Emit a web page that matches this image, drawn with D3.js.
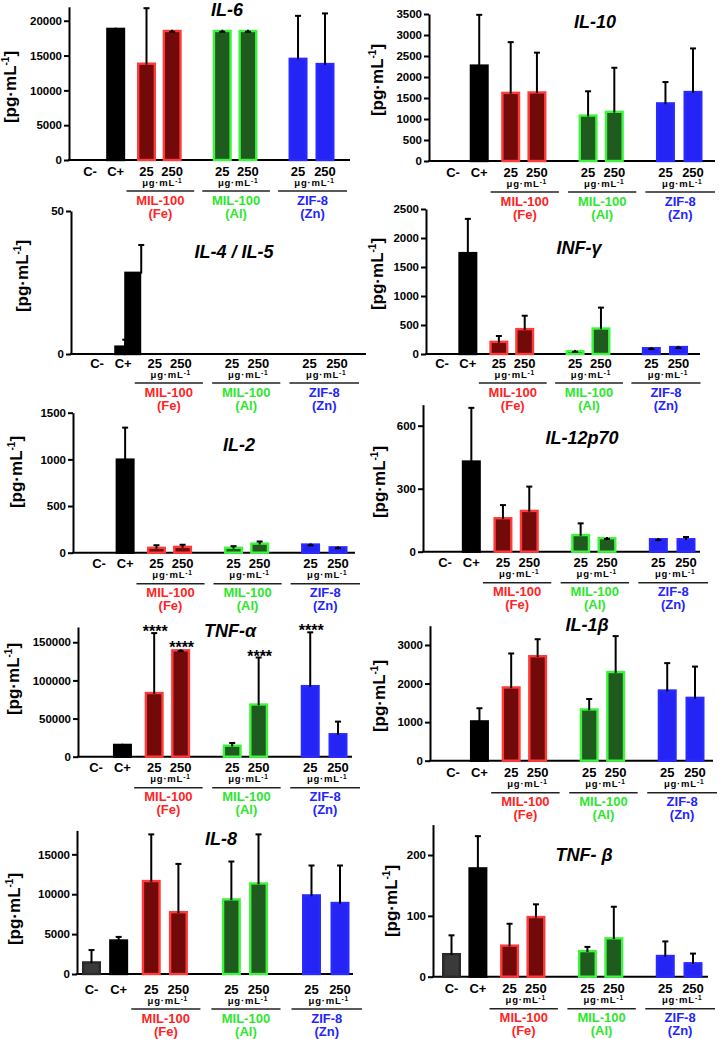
<!DOCTYPE html>
<html><head><meta charset="utf-8">
<script src="https://cdn.jsdelivr.net/npm/d3@7"></script>
<style>
body{margin:0;background:#fff}
svg text{font-family:"Liberation Sans",Arial,Helvetica,sans-serif;font-weight:bold}
</style></head><body>
<svg id="chart" width="719" height="1039"></svg>
<script>
// ---------- DATA ----------
const categoryKeys = ["Cneg","Cpos","Fe25","Fe250","Al25","Al250","Zn25","Zn250"];
const categoryLabels = ["C-","C+","25","250","25","250","25","250"];
const groupNames = ["MIL-100","MIL-100","ZIF-8"];
const groupMetals = ["(Fe)","(Al)","(Zn)"];
const groupKeys = [["Fe25","Fe250"],["Al25","Al250"],["Zn25","Zn250"]];
const doseUnit = "μg·mL";

const titles = ["IL-6","IL-10","IL-4 / IL-5","INF-γ","IL-2","IL-12p70","TNF-α","IL-1β","IL-8","TNF- β"];

const il6Mean = [null,19000,14000,18700,18700,18700,14700,13950];
const il6Sd   = [null,0,7800,0,0,0,6000,7100];
const il6Ticks = [0,5000,10000,15000,20000];

const il10Mean = [null,2300,1650,1660,1110,1200,1400,1670];
const il10Sd   = [null,1180,1180,920,550,1020,480,1010];
const il10Ticks = [0,500,1000,1500,2000,2500,3000,3500];

const il4Mean = [null,3,null,null,null,null,null,null];
const il4Sd   = [null,2,null,null,null,null,null,null];
const il5Mean = [null,28.8,null,null,null,null,null,null];
const il5Sd   = [null,9.3,null,null,null,null,null,null];
const il45Ticks = [0,50];

const infMean = [null,1760,230,450,70,460,120,140];
const infSd   = [null,570,80,210,0,340,0,0];
const infTicks = [0,500,1000,1500,2000,2500];

const il2Mean = [null,1010,65,75,65,110,100,70];
const il2Sd   = [null,330,15,10,5,10,0,0];
const il2Ticks = [0,500,1000,1500];

const il12Mean = [null,435,165,200,85,70,65,65];
const il12Sd   = [null,250,57,110,50,0,0,5];
const il12Ticks = [0,300,600];

const tnfaMean = [null,17000,85000,141000,16000,70000,94000,31000];
const tnfaSd   = [null,0,77000,0,2000,60000,69000,15000];
const tnfaStars = ["","","****","****","","****","****",""];
const tnfaTicks = [0,50000,100000,150000];

const il1bMean = [null,1050,1930,2740,1360,2330,1850,1660];
const il1bSd   = [null,310,850,410,240,900,680,780];
const il1bTicks = [0,1000,2000,3000];

const il8Mean = [1600,4350,11800,7900,9500,11500,10000,9050];
const il8Sd   = [1400,300,5700,5900,4600,6000,3600,4550];
const il8Ticks = [0,5000,10000,15000];

const tnfbMean = [39,180,53,100,44,65,36,24];
const tnfbSd   = [29,51,34,19,5,50,22,14];
const tnfbTicks = [0,100,200];

const axisMax = [22000,3500,50,2500,1500,700,170000,3500,18000,250];

// ---------- LAYOUT / STYLE ----------
const panels = [
 {series:[{mean:il6Mean,sd:il6Sd}], ticks:il6Ticks, axisX:69, right:350, zero:160, top:6.8, x0:90, x1:325, tt:[227,9], yl:[10,87], dy:0},
 {series:[{mean:il10Mean,sd:il10Sd}], ticks:il10Ticks, axisX:429, right:715, zero:161, top:14, x0:453, x1:693, tt:[595,21], yl:[377,80], dy:0},
 {series:[{mean:il4Mean,sd:il4Sd,off:-9,w:11},{mean:il5Mean,sd:il5Sd,off:1,w:17}], ticks:il45Ticks, axisX:71, right:366, zero:354, top:211, x0:97, x1:337, tt:[234,251], yl:[22,276], dy:-2},
 {series:[{mean:infMean,sd:infSd}], ticks:infTicks, axisX:426, right:700, zero:354, top:209, x0:442, x1:678.5, tt:[579,247], yl:[377,274], dy:-2},
 {series:[{mean:il2Mean,sd:il2Sd}], ticks:il2Ticks, axisX:73, right:355, zero:552.7, top:412.7, x0:99, x1:338, tt:[239,444], yl:[16,472], dy:0},
 {series:[{mean:il12Mean,sd:il12Sd}], ticks:il12Ticks, axisX:423, right:700, zero:551.7, top:404.7, x0:445, x1:686, tt:[582,437], yl:[379,482], dy:0},
 {series:[{mean:tnfaMean,sd:tnfaSd,stars:tnfaStars}], ticks:tnfaTicks, axisX:78, right:352, zero:756.7, top:627, x0:96, x1:338, tt:[230,630], yl:[13,679], dy:0},
 {series:[{mean:il1bMean,sd:il1bSd}], ticks:il1bTicks, axisX:430, right:713, zero:760.7, top:625.7, x0:453, x1:695, tt:[587,624], yl:[379,696], dy:1},
 {series:[{mean:il8Mean,sd:il8Sd}], ticks:il8Ticks, axisX:77, right:353, zero:974, top:830.4, x0:91.5, x1:340, tt:[221,838], yl:[14,909], dy:4},
 {series:[{mean:tnfbMean,sd:tnfbSd}], ticks:tnfbTicks, axisX:433, right:708, zero:976.7, top:824.6, x0:451.5, x1:693, tt:[584,854], yl:[391,901], dy:1}
];

const slotScale = d3.scaleOrdinal().domain(categoryKeys).range([0,1,2.2,3.2,5.15,6.15,8.1,9.15]);
const barStyle = {
  Cneg:{fill:"#3a3a3a",stroke:"#2a2a2a"}, Cpos:{fill:"#000",stroke:"#000"},
  Fe:{fill:"#720a0a",stroke:"#ff3a3a"}, Al:{fill:"#1f5a1f",stroke:"#3cf53c"}, Zn:{fill:"#2424f4",stroke:"#2a2aff"}
};
const groupColors = ["#ff2424","#2ee62e","#2424ff"];
const styleOf = k => k==="Cneg"?barStyle.Cneg : k==="Cpos"?barStyle.Cpos : barStyle[k.slice(0,2)];

const svg = d3.select("#chart");

panels.forEach((p,pi)=>{
  const g = svg.append("g");
  const y = d3.scaleLinear().domain([0,axisMax[pi]]).range([p.zero,p.top]);
  const xu = d3.scaleLinear().domain([0,9.15]).range([p.x0,p.x1]);
  const x = k => xu(slotScale(k));

  g.append("line").attr("x1",p.axisX-1).attr("x2",p.right).attr("y1",y(0)).attr("y2",y(0))
    .attr("stroke","#000").attr("stroke-width",2);

  const ax = g.append("g").attr("transform",`translate(${p.axisX},0)`)
    .call(d3.axisLeft(y).tickValues(p.ticks).tickSize(5).tickPadding(2).tickSizeOuter(0).tickFormat(d3.format("d")));
  ax.select(".domain").attr("stroke","#000").attr("stroke-width",2);
  ax.selectAll(".tick line").attr("stroke","#000").attr("stroke-width",2);
  ax.selectAll(".tick text").style("font-size","11.5px").attr("fill","#000");

  p.series.forEach(s=>{
    const w = s.w||19, off = (s.off!==undefined)?s.off:-w/2;
    const items = categoryKeys.map((k,i)=>({k,i,m:s.mean[i],sd:s.sd[i],star:s.stars?s.stars[i]:""})).filter(d=>d.m!==null);
    g.selectAll(null).data(items).enter().append("rect")
      .attr("x",d=>x(d.k)+off+1.2).attr("width",w-2.4)
      .attr("y",d=>y(d.m)+1.2).attr("height",d=>Math.max(0,y(0)-y(d.m)-1.2))
      .attr("fill",d=>styleOf(d.k).fill).attr("stroke",d=>styleOf(d.k).stroke).attr("stroke-width",2.4);
    const ex = d => s.w ? x(d.k)+off+w : x(d.k);
    g.selectAll(null).data(items.filter(d=>d.sd!==null)).enter().append("line")
      .attr("x1",ex).attr("x2",ex).attr("y1",d=>y(d.m)+2).attr("y2",d=>y(d.m+d.sd))
      .attr("stroke","#000").attr("stroke-width",2);
    g.selectAll(null).data(items.filter(d=>d.sd!==null)).enter().append("line")
      .attr("x1",d=>ex(d)-3).attr("x2",d=>ex(d)+3).attr("y1",d=>y(d.m+d.sd)+(d.sd===0?2:0)).attr("y2",d=>y(d.m+d.sd)+(d.sd===0?2:0))
      .attr("stroke","#000").attr("stroke-width",2);
    g.selectAll(null).data(items.filter(d=>d.star)).enter().append("text")
      .attr("x",d=>x(d.k)+1).attr("y",d=>y(d.m+d.sd)+4).attr("text-anchor","middle")
      .attr("fill","#000").style("font-size","16px").text(d=>d.star);
  });

  const base = p.zero + p.dy;
  g.selectAll(null).data(categoryKeys).enter().append("text")
    .attr("x",k=>x(k)).attr("y",base+15.5).attr("text-anchor","middle").attr("fill","#000")
    .style("font-size","13px").text((k,i)=>categoryLabels[i]);

  groupKeys.forEach((gk,gi)=>{
    const a = x(gk[0]), b = x(gk[1]), c = (a+b)/2;
    const u = g.append("text").attr("x",c+3).attr("y",base+25.5).attr("text-anchor","middle").attr("fill","#000")
      .style("font-size","9.5px").style("letter-spacing","0.8px");
    u.append("tspan").text(doseUnit);
    u.append("tspan").attr("dy",-3).style("font-size","6.5px").text("-1");
    g.append("line").attr("x1",a-20).attr("x2",b+22).attr("y1",base+31).attr("y2",base+31)
      .attr("stroke","#222").attr("stroke-width",1.6);
    g.append("text").attr("x",c+1).attr("y",base+44.5).attr("text-anchor","middle")
      .style("font-size","13px").attr("fill",groupColors[gi]).text(groupNames[gi]);
    g.append("text").attr("x",c+1).attr("y",base+57.5).attr("text-anchor","middle")
      .style("font-size","13px").attr("fill",groupColors[gi]).text(groupMetals[gi]);
  });

  g.append("text").attr("x",p.tt[0]).attr("y",p.tt[1]+6.5).attr("text-anchor","middle").attr("fill","#000")
    .style("font-size","18px").style("font-style","italic").text(titles[pi]);

  const yl = g.append("text").attr("transform",`translate(${p.yl[0]+6},${p.yl[1]}) rotate(-90)`)
    .attr("text-anchor","middle").attr("fill","#000").style("font-size","17px");
  yl.append("tspan").text("[pg·mL");
  yl.append("tspan").attr("dy",-7).style("font-size","10px").text("-1");
  yl.append("tspan").attr("dy",7).text("]");
});
</script>
</body></html>
